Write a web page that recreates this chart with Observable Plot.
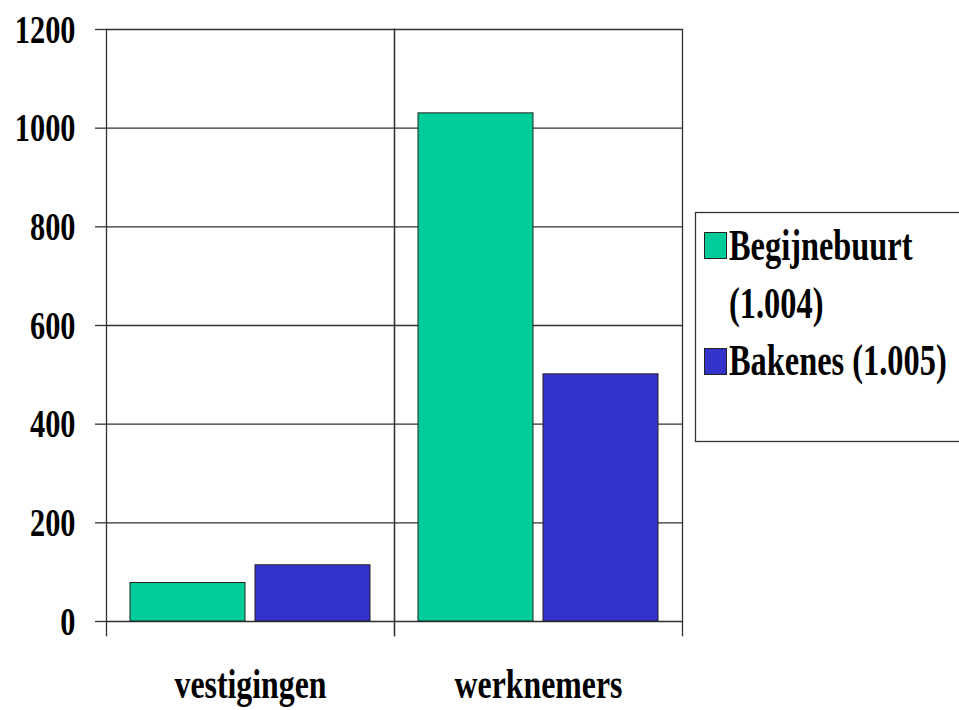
<!DOCTYPE html>
<html>
<head>
<meta charset="utf-8">
<script src="https://cdn.jsdelivr.net/npm/d3@7"></script>
<script src="https://cdn.jsdelivr.net/npm/@observablehq/plot@0.6"></script>
<style>
  html, body { margin: 0; padding: 0; background: #fff; overflow: hidden; }
  #wrap { position: relative; width: 959px; height: 710px; }
  #legend { position: absolute; left: 690px; top: 205px; }
</style>
</head>
<body>
<div id="wrap"><div id="chart"></div><div id="legend"></div></div>
<script>
const categories = ["vestigingen", "werknemers"];
const seriesNames = ["Begijnebuurt (1.004)", "Bakenes (1.005)"];
const begijnebuurt = [78, 1030];
const bakenes = [114, 501];
const yTicks = [0, 200, 400, 600, 800, 1000, 1200];
const colors = ["#00CC99", "#3333CC"];
const legendLines = [["Begijnebuurt", "(1.004)"], ["Bakenes (1.005)"]];

const data = categories.flatMap((c, i) => [
  {category: c, series: seriesNames[0], value: begijnebuurt[i]},
  {category: c, series: seriesNames[1], value: bakenes[i]}
]);

const FONT = "'Liberation Serif', 'Times New Roman', serif";
const SQUEEZE = 0.74;

const chart = Plot.plot({
  width: 959,
  height: 710,
  marginLeft: 105,
  marginRight: 277,
  marginTop: 29,
  marginBottom: 89,
  style: {fontFamily: FONT, fontWeight: "bold", color: "#000", background: "#fff"},
  fx: {domain: categories, padding: 0, label: null, axis: null},
  x: {domain: seriesNames, paddingInner: 0.08, paddingOuter: 0.19, axis: null},
  y: {domain: [0, 1200], axis: null},
  color: {domain: seriesNames, range: colors},
  marks: [
    Plot.ruleY(yTicks, {stroke: "#333", strokeWidth: 1.3}),
    Plot.barY(data, {fx: "category", x: "series", y: "value", fill: "series", stroke: "#222", strokeWidth: 1}),
    Plot.frame({anchor: "left", insetBottom: -14, stroke: "#333", strokeWidth: 1.3}),
    Plot.frame({anchor: "right", insetBottom: -14, stroke: "#333", strokeWidth: 1.3}),
    Plot.axisY({ticks: yTicks, tickSize: 11, tickPadding: 20, label: null, fontSize: 41, stroke: "#333", strokeWidth: 1.3, tickFormat: d => String(d)}),
    Plot.axisFx({anchor: "bottom", tickSize: 0, tickPadding: 46, label: null, fontSize: 43})
  ]
});

// squeeze text horizontally to mimic the condensed look
function squeeze(root, k) {
  root.querySelectorAll("text").forEach(t => {
    const tr = t.getAttribute("transform") || "";
    const x = parseFloat(t.getAttribute("x"));
    let extra = "";
    if (!isNaN(x)) { extra = ` translate(${x},0)`; t.removeAttribute("x"); }
    t.querySelectorAll("tspan").forEach(s => {
      const sx = parseFloat(s.getAttribute("x"));
      if (!isNaN(sx)) s.setAttribute("x", sx / k);
    });
    t.setAttribute("transform", `${tr}${extra} scale(${k},1)`);
  });
}
squeeze(chart, SQUEEZE);
document.getElementById("chart").appendChild(chart);

// legend
const lg = d3.select("#legend").append("svg")
  .attr("width", 269).attr("height", 240)
  .style("font-family", FONT).style("font-weight", "bold");
lg.append("rect").attr("x", 5.5).attr("y", 7.5).attr("width", 320).attr("height", 229)
  .attr("fill", "#fff").attr("stroke", "#333").attr("stroke-width", 1.3);
const swatchY = [27, 143];
const baseY = [55, 170];
seriesNames.forEach((s, i) => {
  lg.append("rect").attr("x", 14.5).attr("y", swatchY[i] + 0.5).attr("width", 22).attr("height", 26)
    .attr("fill", colors[i]).attr("stroke", "#222").attr("stroke-width", 1);
  legendLines[i].forEach((line, j) => {
    lg.append("text")
      .attr("transform", `translate(39,${baseY[i] + j * 58}) scale(0.72,1)`)
      .attr("font-size", 45)
      .attr("fill", "#000")
      .text(line);
  });
});
</script>
</body>
</html>
